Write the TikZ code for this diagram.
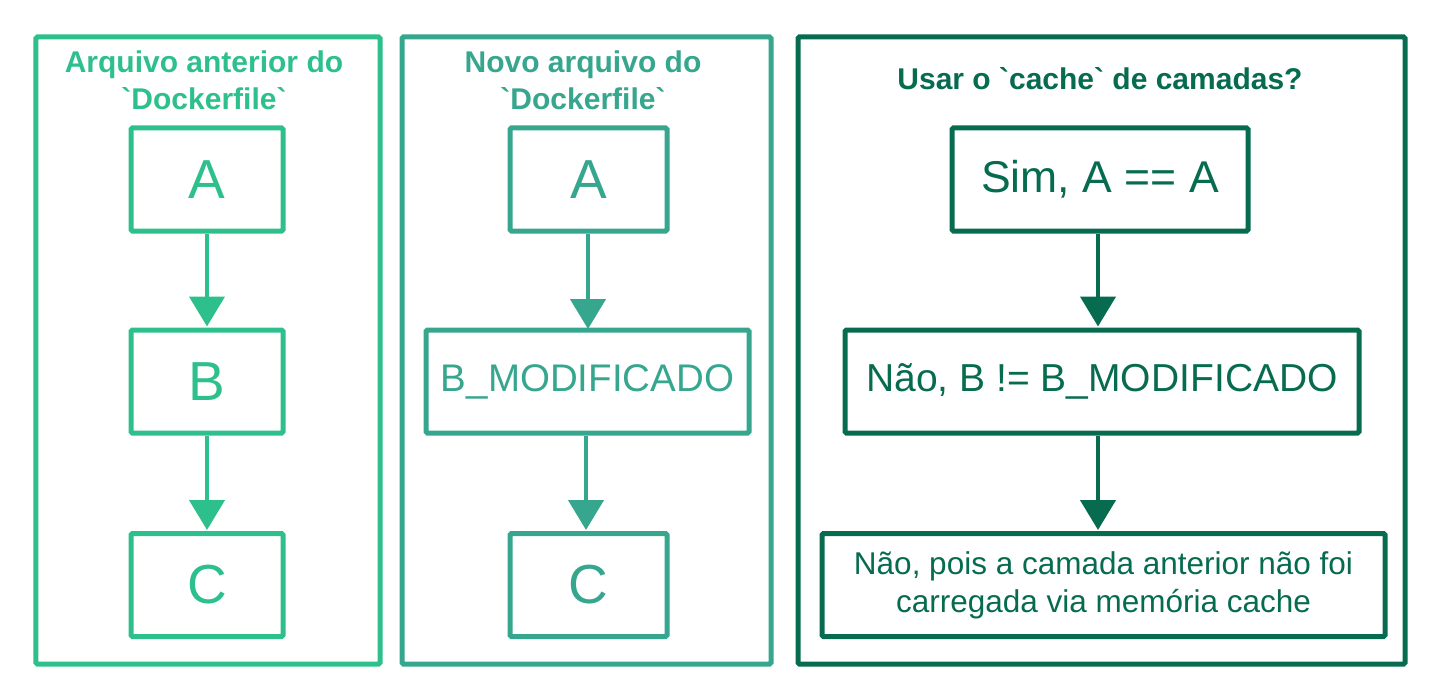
\documentclass[tikz,border=0pt]{standalone}
\usepackage{fontspec}
\setmainfont{Liberation Sans}[Ligatures=TeXOff]
\usetikzlibrary{arrows.meta}
\definecolor{cA}{RGB}{46,192,140}
\definecolor{cB}{RGB}{54,166,142}
\definecolor{cC}{RGB}{7,107,80}
\tikzset{
  panel/.style={draw=#1, line width=5bp, rounded corners=1.5bp},
  stepbox/.style={draw=#1, text=#1, line width=5bp, rounded corners=1.5bp, inner sep=0pt},
  head/.style={text=#1, font=\bfseries\fontsize{30bp}{37bp}\selectfont, align=center},
  conn/.style={draw=#1, line width=4.5bp, -{Triangle[width=35bp,length=30bp]}, shorten >=1bp},
}
\begin{document}
\begin{tikzpicture}[x=1bp,y=-1bp]
\useasboundingbox (0,0) rectangle (1440,699);
% panels
\node[panel=cA, minimum width=344bp, minimum height=627bp, inner sep=0pt] (p1) at (208,350.5) {};
\node[panel=cB, minimum width=369bp, minimum height=627bp, inner sep=0pt] (p2) at (586.5,350.5) {};
\node[panel=cC, minimum width=607bp, minimum height=627bp, inner sep=0pt] (p3) at (1101.5,350.5) {};
% headings
\node[head=cA] (h1) at (204,80) {Arquivo anterior do\\`Dockerfile`};
\node[head=cB] (h2) at (583,80) {Novo arquivo do\\`Dockerfile`};
\node[head=cC] (h3) at (1100,79) {Usar o `cache` de camadas?};
% left column
\begin{scope}[every node/.style={stepbox=cA, font=\fontsize{55bp}{62bp}\selectfont, minimum width=152bp, minimum height=103bp}]
\node (a1) at (207,179.5) {A};
\node (b1) at (207,381.5) {B};
\node (c1) at (207,585) {C};
\end{scope}
\draw[conn=cA] (a1) -- (b1);
\draw[conn=cA] (b1) -- (c1);
% middle column
\begin{scope}[every node/.style={stepbox=cB, minimum height=103bp}]
\node[font=\fontsize{55bp}{62bp}\selectfont, minimum width=157bp] (a2) at (588.5,179.5) {A};
\node[font=\fontsize{38.5bp}{44bp}\selectfont, minimum width=323bp] (b2) at (587.5,381.5) {B\_MODIFICADO};
\node[font=\fontsize{55bp}{62bp}\selectfont, minimum width=157bp] (c2) at (588.5,585) {C};
\end{scope}
\draw[conn=cB] (a2.south -| 588,0) -- (588,330);
\draw[conn=cB] (b2.south -| 586,0) -- (c2.north -| 586,0);
% right column
\begin{scope}[every node/.style={stepbox=cC, minimum height=103bp}]
\node[font=\fontsize{44.5bp}{50bp}\selectfont, minimum width=296bp] (a3) at (1100,179.5) {Sim, A == A};
\node[font=\fontsize{39bp}{46bp}\selectfont, minimum width=514bp] (b3) at (1102,381.5) {Não, B != B\_MODIFICADO};
\node[font=\fontsize{31.5bp}{38bp}\selectfont, minimum width=563bp, align=center] (c3) at (1103.5,585) {Não, pois a camada anterior não foi\\carregada via memória cache};
\end{scope}
\draw[conn=cC] (a3.south -| 1098,0) -- (b3.north -| 1098,0);
\draw[conn=cC] (b3.south -| 1098,0) -- (c3.north -| 1098,0);
\end{tikzpicture}
\end{document}
